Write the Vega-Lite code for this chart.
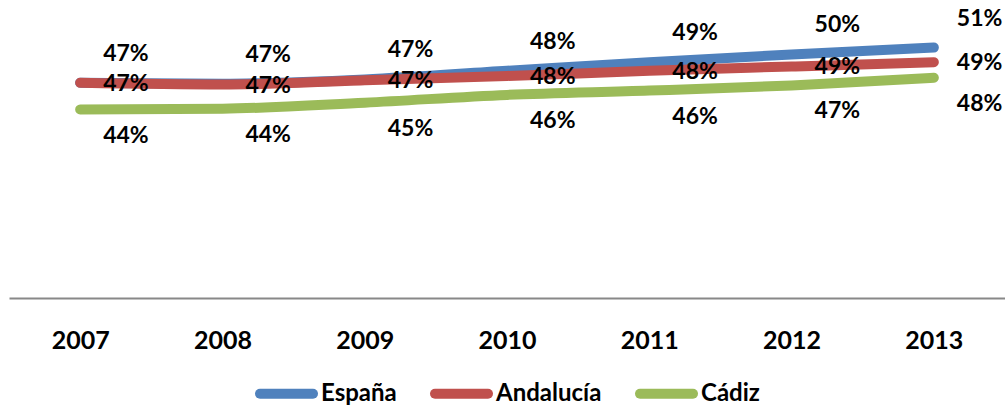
{
  "$schema": "https://vega.github.io/schema/vega-lite/v6.json",
  "width": 996,
  "height": 284,
  "autosize": "none",
  "padding": {"left": 9, "top": 14, "right": 0, "bottom": 112},
  "background": "white",
  "config": {
    "view": {"stroke": null},
    "font": "Lato"
  },
  "data": {
    "values": [
      {"year": "2007", "serie": "España", "value": 0.470},
      {"year": "2008", "serie": "España", "value": 0.469},
      {"year": "2009", "serie": "España", "value": 0.474},
      {"year": "2010", "serie": "España", "value": 0.484},
      {"year": "2011", "serie": "España", "value": 0.494},
      {"year": "2012", "serie": "España", "value": 0.503},
      {"year": "2013", "serie": "España", "value": 0.511},
      {"year": "2007", "serie": "Andalucía", "value": 0.470},
      {"year": "2008", "serie": "Andalucía", "value": 0.468},
      {"year": "2009", "serie": "Andalucía", "value": 0.473},
      {"year": "2010", "serie": "Andalucía", "value": 0.478},
      {"year": "2011", "serie": "Andalucía", "value": 0.484},
      {"year": "2012", "serie": "Andalucía", "value": 0.489},
      {"year": "2013", "serie": "Andalucía", "value": 0.494},
      {"year": "2007", "serie": "Cádiz", "value": 0.439},
      {"year": "2008", "serie": "Cádiz", "value": 0.440},
      {"year": "2009", "serie": "Cádiz", "value": 0.447},
      {"year": "2010", "serie": "Cádiz", "value": 0.456},
      {"year": "2011", "serie": "Cádiz", "value": 0.461},
      {"year": "2012", "serie": "Cádiz", "value": 0.467},
      {"year": "2013", "serie": "Cádiz", "value": 0.476}
    ]
  },
  "encoding": {
    "x": {
      "field": "year",
      "type": "ordinal",
      "scale": {"type": "point", "padding": 0.5},
      "axis": {
        "title": null,
        "labelAngle": 0,
        "labelFont": "Lato",
        "labelFontSize": 25,
        "labelFontWeight": "bold",
        "labelColor": "black",
        "labelPadding": 30,
        "ticks": false,
        "tickSize": 0,
        "domainColor": "#888888",
        "domainWidth": 2,
        "grid": false
      }
    },
    "y": {
      "field": "value",
      "type": "quantitative",
      "scale": {"domain": [0.22, 0.55], "zero": false, "nice": false},
      "axis": null
    }
  },
  "layer": [
    {
      "mark": {"type": "line", "strokeWidth": 10, "strokeCap": "round", "strokeJoin": "round", "interpolate": "monotone"},
      "encoding": {
        "color": {
          "field": "serie",
          "type": "nominal",
          "sort": ["España", "Andalucía", "Cádiz"],
          "scale": {"domain": ["España", "Andalucía", "Cádiz"], "range": ["#4F81BD", "#C0504D", "#9BBB59"]},
          "legend": {
            "title": null,
            "orient": "none",
            "direction": "horizontal",
            "legendX": 246,
            "legendY": 348,
            "symbolType": "stroke",
            "symbolSize": 2809,
            "symbolStrokeWidth": 10,
            "labelFont": "Lato",
            "labelFontSize": 24,
            "labelFontWeight": "bold",
            "labelColor": "black",
            "labelOffset": 3,
            "columnPadding": 18,
            "labelLimit": 300,
            "encode": {"symbols": {"update": {"strokeCap": {"value": "round"}}}}
          }
        }
      }
    },
    {
      "transform": [{"filter": "datum.serie === 'España'"}],
      "mark": {"type": "text", "align": "left", "baseline": "middle", "dx": 23, "dy": -29, "fontSize": 23, "fontWeight": "bold", "font": "Lato", "color": "black"},
      "encoding": {"text": {"field": "value", "type": "quantitative", "format": ".0%"}}
    },
    {
      "transform": [{"filter": "datum.serie === 'Andalucía'"}],
      "mark": {"type": "text", "align": "left", "baseline": "middle", "dx": 23, "dy": 1, "fontSize": 23, "fontWeight": "bold", "font": "Lato", "color": "black"},
      "encoding": {"text": {"field": "value", "type": "quantitative", "format": ".0%"}}
    },
    {
      "transform": [{"filter": "datum.serie === 'Cádiz'"}],
      "mark": {"type": "text", "align": "left", "baseline": "middle", "dx": 23, "dy": 26, "fontSize": 23, "fontWeight": "bold", "font": "Lato", "color": "black"},
      "encoding": {"text": {"field": "value", "type": "quantitative", "format": ".0%"}}
    }
  ]
}
